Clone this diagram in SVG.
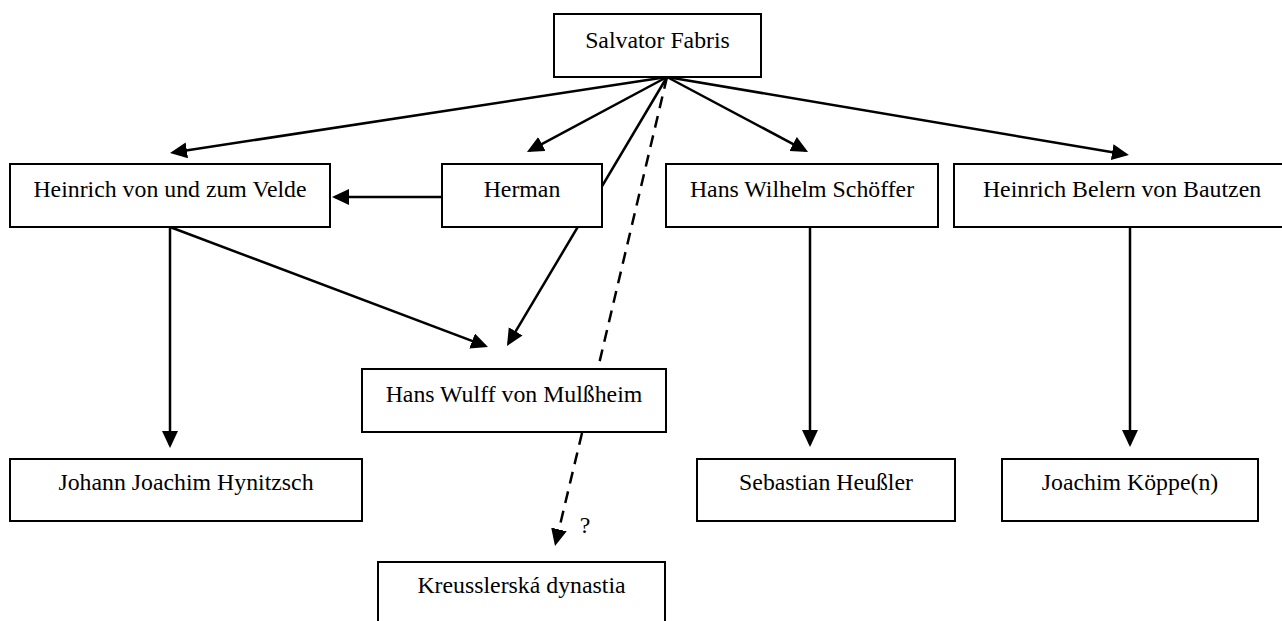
<svg xmlns="http://www.w3.org/2000/svg" width="1282" height="621" viewBox="0 0 1282 621">
<style>
.box{fill:#fff;stroke:#000;stroke-width:2}
.lbl{font-family:"Liberation Serif","Times New Roman",serif;font-size:23.8px;fill:#000;text-anchor:middle}
.ln{stroke:#000;stroke-width:2.5;fill:none}
.arr{marker-end:url(#ah)}
.dash{stroke-dasharray:12 8}
</style>
<defs>
<marker id="ah" markerUnits="userSpaceOnUse" markerWidth="18" markerHeight="18" refX="14" refY="8" orient="auto">
<path d="M0,0 L17,8 L0,16 Z" fill="#000"/>
</marker>
</defs>
<rect width="1282" height="621" fill="#fff"/>
<g id="connectors">
<line class="ln arr" x1="667" y1="77" x2="173" y2="152.5"/>
<line class="ln arr" x1="667" y1="77" x2="529.6" y2="150.6"/>
<line class="ln arr" x1="667" y1="77" x2="805.4" y2="150.6"/>
<line class="ln arr" x1="667" y1="77" x2="1126" y2="154.5"/>
<line class="ln arr" x1="667" y1="77" x2="508.5" y2="343.4"/>
<line class="ln dash" x1="667" y1="77" x2="599" y2="364"/>
<line class="ln arr" x1="443" y1="197" x2="335" y2="197"/>
<line class="ln arr" x1="170" y1="227" x2="485.2" y2="345.9"/>
<line class="ln arr" x1="170" y1="227" x2="170" y2="445"/>
<line class="ln arr" x1="810" y1="227" x2="810" y2="444"/>
<line class="ln arr" x1="1130" y1="227" x2="1130" y2="444"/>
<line class="ln arr dash" x1="582" y1="433" x2="555.7" y2="543.1"/>
<text class="lbl" x="585" y="533">?</text>
</g>
<g id="n-fabris"><rect class="box" x="554" y="14" width="207" height="63"/><text class="lbl" x="657.5" y="48">Salvator Fabris</text></g>
<g id="n-velde"><rect class="box" x="10" y="164" width="320" height="63"/><text class="lbl" x="170" y="197">Heinrich von und zum Velde</text></g>
<g id="n-herman"><rect class="box" x="442" y="164" width="160" height="63"/><text class="lbl" x="522" y="197">Herman</text></g>
<g id="n-schoffer"><rect class="box" x="666" y="164" width="272" height="63"/><text class="lbl" x="802" y="197">Hans Wilhelm Schöffer</text></g>
<g id="n-belern"><rect class="box" x="954" y="164" width="336" height="63"/><text class="lbl" x="1122" y="197">Heinrich Belern von Bautzen</text></g>
<g id="n-mulssheim"><rect class="box" x="362" y="369" width="304" height="63"/><text class="lbl" x="514" y="402">Hans Wulff von Mulßheim</text></g>
<g id="n-hynitzsch"><rect class="box" x="10" y="459" width="352" height="62"/><text class="lbl" x="186" y="490">Johann Joachim Hynitzsch</text></g>
<g id="n-heussler"><rect class="box" x="697" y="459" width="258" height="62"/><text class="lbl" x="826" y="490">Sebastian Heußler</text></g>
<g id="n-koppe"><rect class="box" x="1002" y="459" width="256" height="62"/><text class="lbl" x="1130" y="490">Joachim Köppe(n)</text></g>
<g id="n-kreussler"><rect class="box" x="378" y="562" width="287" height="80"/><text class="lbl" x="521.5" y="593">Kreusslerská dynastia</text></g>
</svg>
